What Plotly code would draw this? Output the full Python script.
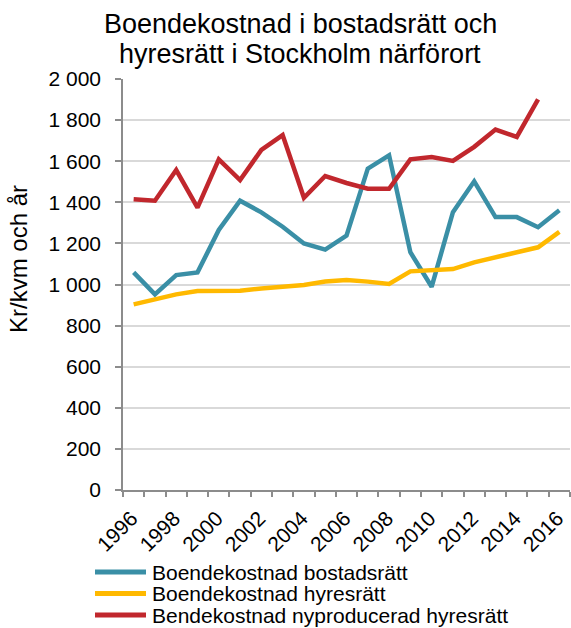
import plotly.graph_objects as go

YEARS = list(range(1996, 2017))

BOSTADSRATT = [1059, 952, 1046, 1059, 1265, 1408, 1351, 1281, 1200, 1170,
               1238, 1564, 1629, 1157, 989, 1352, 1502, 1328, 1328, 1279, 1361]
HYRESRATT = [903, 925, 952, 968, 970, 970, 981, 989, 998, 1015,
             1022, 1014, 1003, 1064, 1072, 1075, 1108, 1132, 1157, 1181, 1256]
NYPRODUCERAD = [1415, 1408, 1557, 1374, 1609, 1508, 1655, 1727, 1422, 1528,
                1494, 1466, 1466, 1609, 1620, 1601, 1670, 1754, 1718, 1901]

SERIES_NAMES = ["Boendekostnad bostadsrätt", "Boendekostnad hyresrätt",
                "Bendekostnad nyproducerad hyresrätt"]

TITLE_LINES = ["Boendekostnad i bostadsrätt och", "hyresrätt i Stockholm närförort"]

Y_TICKS = list(range(0, 2001, 200))
Y_LABELS = ["0", "200", "400", "600", "800", "1 000", "1 200", "1 400",
            "1 600", "1 800", "2 000"]
X_TICKS = list(range(1996, 2017, 2))

BLUE = "#3a8fa6"
YELLOW = "#ffb900"
RED = "#c1272d"
AXIS = "#8c8c8c"
FONT = "Liberation Sans, Arial, sans-serif"

W, H = 571, 628
L, R, T, B = 123, 1, 79, 138
PW, PH = W - L - R, H - T - B


def px_x(x):
    return (x - L) / PW


def px_y(y):
    return (H - B - y) / PH


fig = go.Figure()
for name, vals, color in zip(SERIES_NAMES, [BOSTADSRATT, HYRESRATT, NYPRODUCERAD],
                             [BLUE, YELLOW, RED]):
    fig.add_trace(go.Scatter(
        x=YEARS[:len(vals)], y=vals, mode="lines", name=name,
        line=dict(color=color, width=4.5), showlegend=False,
    ))

# title: two lines placed separately (tighter leading than plotly's <br>)
for i, line in enumerate(TITLE_LINES):
    fig.add_annotation(xref="paper", yref="paper", x=px_x(300), y=px_y(24 + i * 30),
                       xanchor="center", yanchor="middle", showarrow=False,
                       text=line, font=dict(size=27))

# legend drawn by hand so rows can sit as tight as in the original
for i, (name, color) in enumerate(zip(SERIES_NAMES, [BLUE, YELLOW, RED])):
    yc = px_y(572 + i * 21.5)
    fig.add_shape(type="line", xref="paper", yref="paper",
                  x0=px_x(95), x1=px_x(146), y0=yc, y1=yc,
                  line=dict(color=color, width=5))
    fig.add_annotation(xref="paper", yref="paper", x=px_x(150), y=yc,
                       xanchor="left", yanchor="middle", showarrow=False,
                       text=name, font=dict(size=21))

# y axis title, placed like the original (a bit above centre)
fig.add_annotation(xref="paper", yref="paper", x=px_x(18), y=px_y(259),
                   xanchor="center", yanchor="middle", showarrow=False,
                   textangle=-90, text="Kr/kvm och år", font=dict(size=24))

fig.update_layout(
    width=W, height=H,
    margin=dict(l=L, r=R, t=T, b=B),
    paper_bgcolor="white", plot_bgcolor="white",
    font=dict(family=FONT, color="#000000", size=21),
    showlegend=False,
)

fig.update_xaxes(
    range=[1995.5, 2016.5], automargin=False,
    tickvals=X_TICKS, ticktext=[str(y) for y in X_TICKS],
    tickangle=-45, ticks="", showgrid=False,
    showline=True, linecolor=AXIS, linewidth=1.5,
    tickfont=dict(size=21), ticklabelshift=-2, ticklabelstandoff=6,
    minor=dict(ticks="outside", tick0=1995.5, dtick=1, ticklen=5,
               tickcolor=AXIS, tickwidth=1.5, showgrid=False),
)
fig.update_yaxes(
    range=[0, 2000], automargin=False,
    tickvals=Y_TICKS, ticktext=Y_LABELS,
    ticks="outside", ticklen=6, tickcolor=AXIS, tickwidth=1.5,
    showline=True, linecolor=AXIS, linewidth=1.5,
    showgrid=True, gridcolor="#d9d9d9", gridwidth=1.5,
    zeroline=False, tickfont=dict(size=21), ticklabelstandoff=10,
)

fig.write_html("out.html", config={"displayModeBar": False},
               post_script="document.body.style.margin = '0';")
